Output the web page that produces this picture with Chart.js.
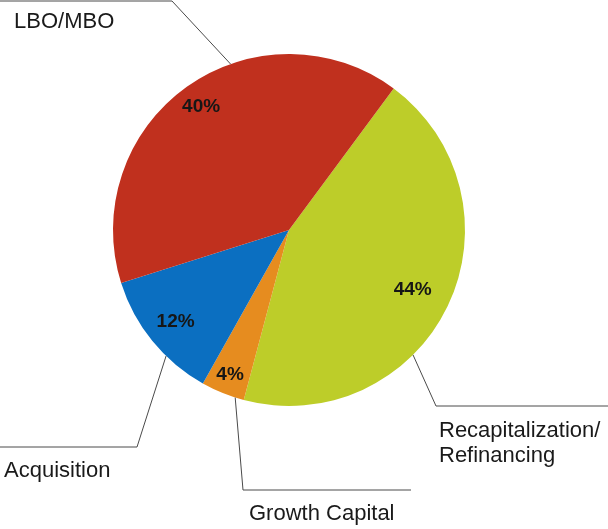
<!DOCTYPE html>
<html lang="en">
<head>
    <meta charset="UTF-8">
    <title>Deal purpose pie</title>
    <script src="https://cdn.jsdelivr.net/npm/chart.js@4.4.1/dist/chart.umd.min.js"></script>
    <style>
        body { margin: 0; background: #ffffff; }
        #wrap { width: 608px; height: 529px; }
    </style>
</head>
<body>
<div id="wrap"><canvas id="pieChart" width="608" height="529"></canvas></div>
<script>
    // data (clockwise, starting at the red/green edge)
    const categories = ['Recapitalization/\nRefinancing', 'Growth Capital', 'Acquisition', 'LBO/MBO'];
    const shares = [44, 4, 12, 40];
    const sliceColors = ['#bdcd29', '#e68c1f', '#0b6fc1', '#c0301e'];

    // where the % text sits, as fraction of the radius
    const pctRadius = [0.78, 0.89, 0.83, 0.86];

    // leader lines: angle on the rim (deg, clockwise from top), elbow, end, label pos
    const leaders = [
        { ang: 135.2, elbow: [436, 406], end: [608, 406], text: ['Recapitalization/', 'Refinancing'], tx: 439, ty: 437 },
        { ang: 197.8, elbow: [243, 490], end: [411, 490], text: ['Growth Capital'], tx: 249, ty: 520 },
        { ang: 224.3, elbow: [137, 447], end: [0, 447], text: ['Acquisition'], tx: 4, ty: 477 },
        { ang: 340.6, elbow: [172, 1], end: [0, 1], text: ['LBO/MBO'], tx: 14, ty: 28 }
    ];

    const labelPlugin = {
        id: 'labels',
        afterDraw(chart) {
            const ctx = chart.ctx;
            const arcs = chart.getDatasetMeta(0).data;
            const cx = arcs[0].x, cy = arcs[0].y, r = arcs[0].outerRadius;

            // % labels
            ctx.save();
            ctx.font = 'bold 19px "Liberation Sans", Arial, sans-serif';
            ctx.fillStyle = '#161616';
            ctx.textAlign = 'center';
            ctx.textBaseline = 'middle';
            arcs.forEach((a, i) => {
                const mid = (a.startAngle + a.endAngle) / 2;
                const d = r * pctRadius[i];
                ctx.fillText(shares[i] + '%', cx + Math.cos(mid) * d, cy + Math.sin(mid) * d);
            });
            ctx.restore();

            // leader lines + category names
            ctx.save();
            ctx.strokeStyle = '#4a4a4a';
            ctx.lineWidth = 1;
            ctx.font = '22px "Liberation Sans", Arial, sans-serif';
            ctx.fillStyle = '#1a1a1a';
            ctx.textAlign = 'left';
            ctx.textBaseline = 'alphabetic';
            leaders.forEach(l => {
                const t = (l.ang - 90) * Math.PI / 180;
                ctx.beginPath();
                ctx.moveTo(cx + Math.cos(t) * r, cy + Math.sin(t) * r);
                ctx.lineTo(l.elbow[0], l.elbow[1]);
                ctx.lineTo(l.end[0], l.end[1]);
                ctx.stroke();
                l.text.forEach((s, k) => ctx.fillText(s, l.tx, l.ty + k * 25));
            });
            ctx.restore();
        }
    };

    new Chart(document.getElementById('pieChart'), {
        type: 'pie',
        data: {
            labels: categories,
            datasets: [{
                data: shares,
                backgroundColor: sliceColors,
                borderWidth: 0
            }]
        },
        options: {
            responsive: false,
            animation: false,
            rotation: 36.5,
            layout: { padding: { left: 113, right: 143, top: 54, bottom: 123 } },
            plugins: {
                legend: { display: false },
                tooltip: { enabled: false }
            }
        },
        plugins: [labelPlugin]
    });
</script>
</body>
</html>
